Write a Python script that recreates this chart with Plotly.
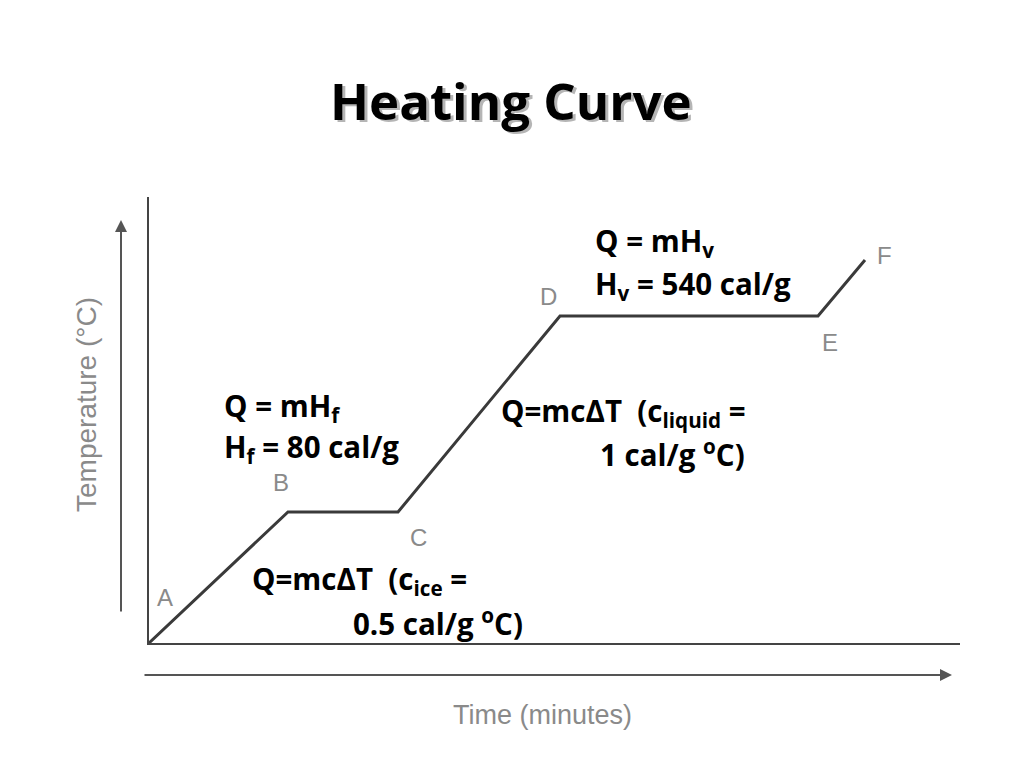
import plotly.graph_objects as go

# Heating curve points (time units, temperature units)
point_labels = ["A", "B", "C", "D", "E", "F"]
time_vals = [0, 139, 249, 411, 669, 716]
temp_vals = [0, 131, 131, 327, 327, 383]

# Label placements near the corresponding points
label_x = [16, 132, 269, 399, 681, 735]
label_y = [46, 161, 106, 347, 301, 388]

x_range = [0, 811]
y_range = [0, 446]

W, H = 811.0, 446.0  # plot area size in px
def px(x):  # pixel offset from plot left -> paper
    return x / W
def py(y):  # pixel offset from plot bottom -> paper
    return y / H

fig = go.Figure()
fig.add_trace(go.Scatter(
    x=time_vals, y=temp_vals, mode="lines",
    line=dict(color="#3a3a3a", width=3),
    hoverinfo="skip", showlegend=False, cliponaxis=False,
))

gray_font = dict(family="Liberation Sans, Arial, sans-serif", size=24, color="#8a8a8a")
for lab, lx, ly in zip(point_labels, label_x, label_y):
    fig.add_annotation(x=lx, y=ly, text=lab, showarrow=False,
                       xanchor="center", yanchor="middle", font=gray_font)

bold = dict(family="Open Sans, sans-serif", size=29.5, color="#000000")
notes = [
    ("<b>Q = mH<sub>v</sub></b>", 444, 401),
    ("<b>H<sub>v</sub> = 540 cal/g</b>", 444, 358),
    ("<b>Q = mH<sub>f</sub></b>", 73, 236),
    ("<b>H<sub>f</sub> = 80 cal/g</b>", 73, 195),
    ("<b>Q=mcΔT  (c<sub>liquid</sub> =</b>", 350, 231),
    ("<b>1 cal/g <sup>o</sup>C)</b>", 449, 190),
    ("<b>Q=mcΔT  (c<sub>ice</sub> =</b>", 101, 63),
    ("<b>0.5 cal/g <sup>o</sup>C)</b>", 202, 21),
]
for txt, nx, ny in notes:
    fig.add_annotation(x=nx, y=ny, text=txt, showarrow=False,
                       xanchor="left", yanchor="middle", font=bold)

# Title with soft shadow
title_font = dict(family="Open Sans, sans-serif", size=51)
fig.add_annotation(x=px(365), y=py(541), xref="paper", yref="paper",
                   text="<b>Heating Curve</b>", showarrow=False,
                   xanchor="center", yanchor="middle",
                   font=dict(color="#b5b5b5", **title_font))
fig.add_annotation(x=px(362), y=py(543), xref="paper", yref="paper",
                   text="<b>Heating Curve</b>", showarrow=False,
                   xanchor="center", yanchor="middle",
                   font=dict(color="#000000", **title_font))

# Direction arrows (tail offsets in pixels)
fig.add_annotation(x=px(-28), y=py(423), xref="paper", yref="paper",
                   ax=0, ay=393, axref="pixel", ayref="pixel",
                   text="", showarrow=True,
                   arrowhead=2, arrowsize=1.2, arrowwidth=2, arrowcolor="#555555")
fig.add_annotation(x=px(803), y=py(-32), xref="paper", yref="paper",
                   ax=-809, ay=0, axref="pixel", ayref="pixel",
                   text="", showarrow=True,
                   arrowhead=2, arrowsize=1.2, arrowwidth=2, arrowcolor="#555555")

# Axis captions
fig.add_annotation(x=px(-63), y=py(238), xref="paper", yref="paper",
                   text="Temperature (°C)", showarrow=False,
                   textangle=-90, xanchor="center", yanchor="middle",
                   font=dict(family="Liberation Sans, Arial, sans-serif", size=28, color="#8a8a8a"))
fig.add_annotation(x=px(393), y=py(-72), xref="paper", yref="paper",
                   text="Time (minutes)", showarrow=False,
                   xanchor="center", yanchor="middle",
                   font=dict(family="Liberation Sans, Arial, sans-serif", size=27, color="#8a8a8a"))

fig.update_layout(
    width=1024, height=768,
    margin=dict(l=141, r=72, t=189, b=133, pad=0),
    paper_bgcolor="white", plot_bgcolor="white",
    showlegend=False,
)
fig.update_xaxes(range=x_range, showgrid=False, zeroline=False, showticklabels=False,
                 ticks="", showline=True, linecolor="#444444", linewidth=2)
fig.update_yaxes(range=y_range, showgrid=False, zeroline=False, showticklabels=False,
                 ticks="", showline=True, linecolor="#444444", linewidth=2)

fig.write_html("out.html")
